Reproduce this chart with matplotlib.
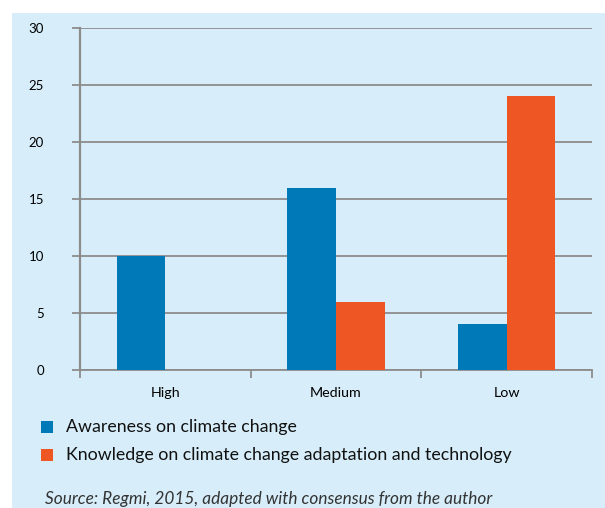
import numpy as np
import matplotlib.pyplot as plt
from matplotlib.patches import Rectangle

categories = ['High', 'Medium', 'Low']
awareness = [10, 16, 4]
knowledge = [0, 6, 24]
series_names = ['Awareness on climate change',
                'Knowledge on climate change adaptation and technology']
y_ticks = [0, 5, 10, 15, 20, 25, 30]

blue = '#0079b8'
orange = '#ee5623'
panel = '#d7eefa'
grid_c = '#8c8c8c'

plt.rcParams['font.family'] = ['Lato', 'DejaVu Sans']

fig = plt.figure(figsize=(6.05, 5.08), dpi=100)
fig.patches.append(Rectangle((12 / 605, 0), 1, 1 - 13 / 508, transform=fig.transFigure,
                             facecolor=panel, edgecolor='none', zorder=-5))

ax = fig.add_axes([80 / 605, 1 - 370 / 508, 512 / 605, 342 / 508])
ax.set_facecolor('none')
ax.set_zorder(2)

x = np.arange(len(categories))
w = 0.285
ax.bar(x - w / 2, awareness, w, color=blue, zorder=3)
ax.bar(x + w / 2, knowledge, w, color=orange, zorder=3)

ax.set_xlim(-0.5, 2.5)
ax.set_ylim(0, 30)
ax.set_yticks(y_ticks)
ax.set_yticklabels([str(t) for t in y_ticks], fontsize=9.5)
ax.tick_params(axis='y', length=6, width=1.3, color=grid_c, pad=20)
ax.yaxis.grid(True, color=grid_c, linewidth=1.3, zorder=1)
ax.set_axisbelow(True)

ax.set_xticks(x)
ax.set_xticklabels(categories, fontsize=10.3)
ax.tick_params(axis='x', which='major', length=0, pad=12)
ax.set_xticks([-0.5, 0.5, 1.5, 2.5], minor=True)
ax.tick_params(axis='x', which='minor', length=6, width=1.3, color=grid_c)

for s in ['top', 'right']:
    ax.spines[s].set_visible(False)
ax.spines['left'].set_color(grid_c)
ax.spines['left'].set_linewidth(1.6)
ax.spines['bottom'].set_color(grid_c)
ax.spines['bottom'].set_linewidth(1.3)

# legend drawn by hand
for i, (name, col) in enumerate(zip(series_names, [blue, orange])):
    yy = 1 - (427 + 28 * i) / 508
    fig.patches.append(Rectangle((41 / 605, yy - 6 / 508), 12 / 605, 12 / 508,
                                 transform=fig.transFigure, facecolor=col,
                                 edgecolor='none'))
    fig.text(66 / 605, yy, name, fontsize=12.8, va='center', ha='left', color='#111111')

fig.text(45 / 605, 1 - 499 / 508, 'Source: Regmi, 2015, adapted with consensus from the author',
         fontsize=12.4, style='italic', color='#333333', va='center', ha='left')

fig.savefig('out.png', dpi=100)
